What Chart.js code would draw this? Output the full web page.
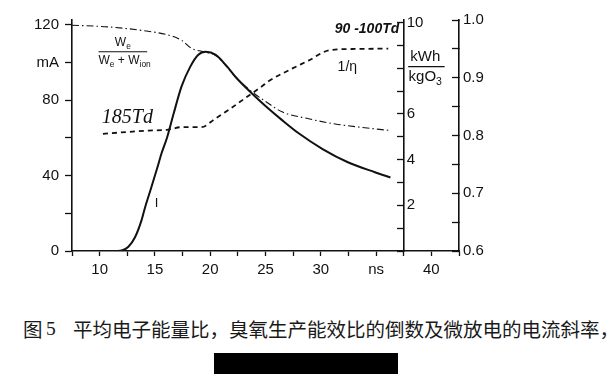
<!DOCTYPE html>
<html>
<head>
<meta charset="utf-8">
<script src="https://cdn.jsdelivr.net/npm/chart.js@4.4.1/dist/chart.umd.min.js"></script>
<style>
body { margin: 0; background: #fff; width: 614px; height: 384px; overflow: hidden; position: relative; }
#wrap { position: absolute; left: 0; top: 0; width: 614px; height: 290px; }
.cap { position: absolute; top: 319px; font-size: 19.5px; line-height: 20px; color: #1a1a1a; white-space: nowrap; font-family: "Noto Sans CJK SC", sans-serif; }
#redact { position: absolute; left: 214px; top: 353px; width: 184px; height: 21px; background: #000; }
</style>
</head>
<body>
<div id="wrap"><canvas id="chartCanvas"></canvas></div>
<div class="cap" style="left:23px">图</div>
<div class="cap" style="left:46px;font-family:'Liberation Serif',serif">5</div>
<div class="cap" style="left:73px">平均电子能量比，臭氧生产能效比的倒数及微放电的电流斜率，</div>
<div id="redact"></div>
<script>
// current I (mA), solid line
const currentTime = [11.5, 12.0, 12.6, 13.2, 13.8, 14.1, 14.6, 15.2, 15.6, 16.1, 16.7, 17.4, 18.2, 18.9, 19.6, 20.5, 21.4, 22.4, 23.8, 25.0, 26.5, 28.0, 30.2, 32.5, 34.9, 36.3];
const currentMA = [0, 0.3, 2.3, 7.3, 16.5, 23.0, 32.4, 43.9, 51.9, 60.3, 73.1, 87.3, 97.9, 104.1, 105.8, 104.1, 98.8, 91.7, 83.5, 77.0, 69.5, 62.5, 54.0, 47.0, 41.8, 39.0];

// We/(We+Wion), dash-dot line, right axis
const ratioTime = [7.5, 10.8, 13.8, 16.2, 17.4, 18.3, 19.4, 20.45, 21.36, 22.4, 23.76, 25.0, 26.5, 28.9, 31.3, 33.7, 36.1];
const ratioValue = [0.991, 0.988, 0.982, 0.974, 0.965, 0.951, 0.945, 0.939, 0.922, 0.899, 0.876, 0.859, 0.841, 0.829, 0.820, 0.814, 0.809];

// 1/eta (kWh/kgO3), dashed line, middle axis
const etaTime = [10.3, 14.4, 16.2, 17.4, 19.2, 20.45, 21.65, 23.16, 24.66, 25.27, 27.07, 28.88, 30.8, 32.8, 36.1];
const etaValue = [5.13, 5.27, 5.31, 5.42, 5.42, 5.79, 6.17, 6.69, 7.2, 7.43, 7.9, 8.33, 8.79, 8.84, 8.86];

// axes
const xTicks = [7.5, 10, 12.5, 15, 17.5, 20, 22.5, 25, 27.5, 30, 32.5, 35, 37.5, 40, 42.5];
const xTickLabels = ['', '10', '', '15', '', '20', '', '25', '', '30', '', 'ns', '', '40', ''];
const leftTicks = [0, 20, 40, 60, 80, 100, 120];
const leftTickLabels = ['0', '', '40', '', '80', 'mA', '120'];
const etaTicks = [0, 1, 2, 3, 4, 5, 6, 7, 8, 9, 10];
const etaTickLabels = ['', '', '2', '', '4', '', '6', '', '', '', '10'];
const ratioTicks = [0.6, 0.65, 0.7, 0.75, 0.8, 0.85, 0.9, 0.95, 1.0];
const ratioTickLabels = ['0.6', '', '0.7', '', '0.8', '', '0.9', '', '1.0'];
const etaAxisAt = 37.5;

const ink = '#111';
const tickFont = { family: 'Liberation Sans', size: 15 };

function pts(xs, ys) {
    return xs.map((x, i) => ({ x: x, y: ys[i] }));
}

// draw text with subscripts: parts = [[text, isSub], ...]
function rich(ctx, parts, x, y, size, align) {
    let w = 0;
    parts.forEach(p => {
        ctx.font = (p[1] ? size * 0.7 : size) + 'px "Liberation Sans"';
        w += ctx.measureText(p[0]).width;
    });
    let cx = align === 'center' ? x - w / 2 : x;
    ctx.textAlign = 'left';
    parts.forEach(p => {
        ctx.font = (p[1] ? size * 0.7 : size) + 'px "Liberation Sans"';
        ctx.fillText(p[0], cx, p[1] ? y + size * 0.35 : y);
        cx += ctx.measureText(p[0]).width;
    });
}

const notes = {
    id: 'notes',
    afterDraw(chart) {
        const { ctx, scales } = chart;
        const px = t => scales.x.getPixelForValue(t);
        const py = v => scales.y.getPixelForValue(v);
        ctx.save();
        ctx.fillStyle = ink;
        ctx.strokeStyle = ink;
        ctx.textBaseline = 'middle';

        // labels of the middle axis sit on its right side
        const ax = px(etaAxisAt);
        ctx.font = '15px "Liberation Sans"';
        ctx.textAlign = 'left';
        etaTicks.forEach((v, i) => {
            if (etaTickLabels[i]) ctx.fillText(etaTickLabels[i], ax + 3, scales.yEta.getPixelForValue(v));
        });

        // kWh / kgO3
        ctx.textAlign = 'center';
        ctx.fillText('kWh', px(39.45), py(103));
        ctx.lineWidth = 1.2;
        ctx.beginPath();
        ctx.moveTo(px(37.9), py(97.9));
        ctx.lineTo(px(41.2), py(97.9));
        ctx.stroke();
        rich(ctx, [['kgO', false], ['3', true]], px(39.45), py(92.2), 15, 'center');

        // We / (We + Wion)
        rich(ctx, [['W', false], ['e', true]], px(12.1), py(110.5), 12, 'center');
        ctx.lineWidth = 1.2;
        ctx.beginPath();
        ctx.moveTo(px(9.9), py(105.8));
        ctx.lineTo(px(14.3), py(105.8));
        ctx.stroke();
        rich(ctx, [['W', false], ['e', true], [' + ', false], ['W', false], ['ion', true]], px(9.9), py(101), 12, 'left');

        // 1/eta and I
        ctx.font = '14px "Liberation Sans"';
        ctx.textAlign = 'center';
        ctx.fillText('1/η', px(32.4), py(97.5));
        ctx.font = '13px "Liberation Sans"';
        ctx.fillText('I', px(15.15), py(25));

        // handwritten notes
        ctx.font = 'italic 20px "Liberation Serif"';
        ctx.textAlign = 'left';
        ctx.fillText('185Td', px(10.2), py(70.5));
        ctx.font = 'italic bold 14px "Liberation Sans"';
        ctx.textAlign = 'right';
        ctx.fillText('90 -100Td', px(37.1), py(117.8));
        ctx.restore();
    }
};

const axisGrid = { drawOnChartArea: false, tickLength: 7, tickColor: ink, tickWidth: 1.3 };
const axisBorder = { color: ink, width: 1.6 };

const chart = new Chart(document.getElementById('chartCanvas'), {
    type: 'line',
    data: {
        datasets: [{
            label: 'I',
            data: pts(currentTime, currentMA),
            yAxisID: 'y',
            borderColor: ink,
            borderWidth: 2,
            pointRadius: 0,
            cubicInterpolationMode: 'monotone'
        }, {
            label: 'We/(We+Wion)',
            data: pts(ratioTime, ratioValue),
            yAxisID: 'yRatio',
            borderColor: ink,
            borderWidth: 1.1,
            borderDash: [7, 3, 1.5, 3],
            pointRadius: 0,
            cubicInterpolationMode: 'monotone'
        }, {
            label: '1/η',
            data: pts(etaTime, etaValue),
            yAxisID: 'yEta',
            borderColor: ink,
            borderWidth: 1.8,
            borderDash: [5, 4],
            pointRadius: 0,
            cubicInterpolationMode: 'monotone'
        }]
    },
    options: {
        responsive: true,
        maintainAspectRatio: false,
        animation: false,
        layout: { padding: { left: 0, top: 20, right: 115, bottom: 9 } },
        plugins: { legend: { display: false }, tooltip: { enabled: false } },
        scales: {
            x: {
                type: 'linear',
                min: 7.5,
                max: 42.5,
                afterBuildTicks: s => { s.ticks = xTicks.map(v => ({ value: v })); },
                afterFit: s => { s.height = 30; },
                ticks: { callback: (v, i) => xTickLabels[i], font: tickFont, color: ink, padding: 5, maxRotation: 0, autoSkip: false },
                grid: { drawOnChartArea: false, tickLength: 5, tickColor: ink, tickWidth: 1.3 },
                border: axisBorder
            },
            y: {
                position: 'left',
                min: 0,
                max: 122.65,
                afterBuildTicks: s => { s.ticks = leftTicks.map(v => ({ value: v })); },
                afterFit: s => { s.width = 72; },
                ticks: { callback: (v, i) => leftTickLabels[i], font: tickFont, color: ink, padding: 6, autoSkip: false },
                grid: axisGrid,
                border: axisBorder
            },
            yEta: {
                position: { x: etaAxisAt },
                min: 0,
                max: 10.11,
                afterBuildTicks: s => { s.ticks = etaTicks.map(v => ({ value: v })); },
                ticks: { display: false },
                grid: { drawOnChartArea: false, tickLength: 6, tickColor: ink, tickWidth: 1.3 },
                border: axisBorder
            },
            yRatio: {
                position: 'right',
                min: 0.6,
                max: 1.0,
                afterBuildTicks: s => { s.ticks = ratioTicks.map(v => ({ value: v })); },
                afterFit: s => { s.width = 40; },
                ticks: { callback: (v, i) => ratioTickLabels[i], font: tickFont, color: ink, padding: 11, autoSkip: false },
                grid: { drawOnChartArea: false, tickLength: -7, tickColor: ink, tickWidth: 1.3 },
                border: axisBorder
            }
        }
    },
    plugins: [notes]
});
</script>
</body>
</html>
